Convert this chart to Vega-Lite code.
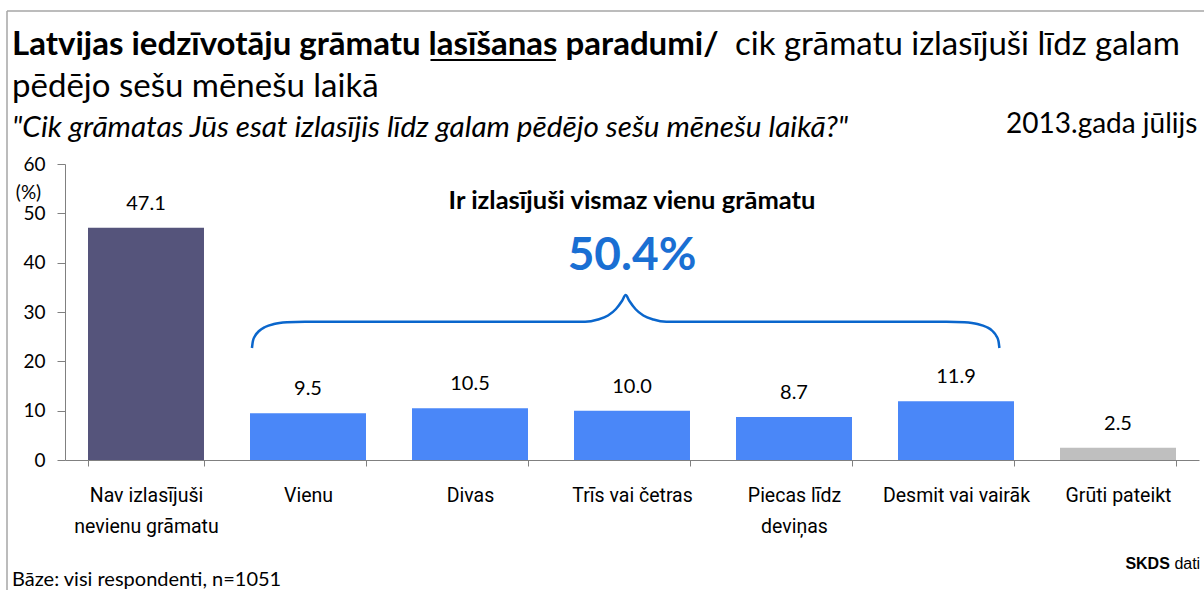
{
  "$schema": "https://vega.github.io/schema/vega-lite/v6.json",
  "width": 1134,
  "height": 296,
  "autosize": {"type": "none"},
  "padding": {"left": 65, "top": 164, "right": 5, "bottom": 130},
  "background": "white",
  "config": {"view": {"stroke": null}, "text": {"font": "Lato"}},
  "datasets": {
    "bars": [
      {"cat": "Nav izlasījuši\nnevienu grāmatu", "value": 47.1, "group": "none"},
      {"cat": "Vienu", "value": 9.5, "group": "some"},
      {"cat": "Divas", "value": 10.5, "group": "some"},
      {"cat": "Trīs vai četras", "value": 10.0, "group": "some"},
      {"cat": "Piecas līdz\ndeviņas", "value": 8.7, "group": "some"},
      {"cat": "Desmit vai vairāk", "value": 11.9, "group": "some"},
      {"cat": "Grūti pateikt", "value": 2.5, "group": "hard"}
    ],
    "brace": [
      {"bx": 1.154, "by": 22.70}, {"bx": 1.160, "by": 24.12}, {"bx": 1.173, "by": 25.14},
      {"bx": 1.198, "by": 26.15}, {"bx": 1.235, "by": 26.96}, {"bx": 1.290, "by": 27.57},
      {"bx": 1.370, "by": 27.91}, {"bx": 1.481, "by": 28.03}, {"bx": 3.210, "by": 28.03},
      {"bx": 3.290, "by": 28.48}, {"bx": 3.352, "by": 29.29}, {"bx": 3.401, "by": 30.61},
      {"bx": 3.438, "by": 32.23}, {"bx": 3.461, "by": 33.45}, {"bx": 3.484, "by": 32.23},
      {"bx": 3.521, "by": 30.61}, {"bx": 3.570, "by": 29.29}, {"bx": 3.632, "by": 28.48},
      {"bx": 3.712, "by": 28.03}, {"bx": 5.441, "by": 28.03}, {"bx": 5.552, "by": 27.91},
      {"bx": 5.632, "by": 27.57}, {"bx": 5.688, "by": 26.96}, {"bx": 5.725, "by": 26.15},
      {"bx": 5.749, "by": 25.14}, {"bx": 5.762, "by": 24.12}, {"bx": 5.768, "by": 22.70}
    ]
  },
  "layer": [
    {
      "data": {"name": "bars"},
      "encoding": {
        "x": {
          "field": "cat", "type": "nominal", "sort": null,
          "scale": {"paddingInner": 0.284, "paddingOuter": 0.142},
          "axis": {
            "title": null, "labelAngle": 0, "tickBand": "extent", "tickSize": 6,
            "tickColor": "#808080", "domainColor": "#808080",
            "labelFont": "Roboto", "labelFontSize": 19.5, "labelColor": "#000000",
            "labelPadding": 20, "labelLineHeight": 31,
            "labelExpr": "isValid(datum.value) ? split(datum.value, '\\n') : ''"
          }
        },
        "y": {
          "field": "value", "type": "quantitative",
          "scale": {"domain": [0, 60], "nice": false},
          "axis": {
            "values": [0, 10, 20, 30, 40, 50, 60], "grid": false, "tickSize": 8,
            "tickColor": "#808080", "domainColor": "#808080",
            "labelFont": "Lato", "labelFontSize": 19, "labelColor": "#000000", "labelPadding": 12,
            "title": "(%)", "titleAngle": 0, "titleX": -37, "titleY": 28,
            "titleAlign": "center", "titleBaseline": "middle",
            "titleFont": "Lato", "titleFontSize": 19, "titleFontWeight": "normal", "titleColor": "#000000"
          }
        }
      },
      "layer": [
        {
          "mark": {"type": "bar"},
          "encoding": {
            "color": {
              "field": "group", "type": "nominal",
              "scale": {"domain": ["none", "some", "hard"], "range": ["#55547B", "#4A87F8", "#BFBFBF"]},
              "legend": null
            }
          }
        },
        {
          "mark": {"type": "text", "font": "Lato", "fontSize": 20, "baseline": "alphabetic", "dy": -18, "color": "#000000"},
          "encoding": {"text": {"field": "value", "type": "quantitative", "format": ".1f"}}
        }
      ]
    },
    {
      "encoding": {
        "x": {"type": "quantitative", "scale": {"domain": [0, 7], "nice": false, "zero": false}, "axis": null},
        "y": {"type": "quantitative", "scale": {"domain": [0, 60], "nice": false, "zero": false}, "axis": null}
      },
      "layer": [
        {
          "data": {"values": [{"t": "frame"}]},
          "mark": {"type": "rule", "color": "#A6A6A6", "strokeWidth": 1.5},
          "encoding": {"x": {"datum": -0.358}, "x2": {"datum": 7.05}, "y": {"datum": 91.0}}
        },
        {
          "data": {"values": [{"t": "frame"}]},
          "mark": {"type": "rule", "color": "#A6A6A6", "strokeWidth": 1.5},
          "encoding": {"x": {"datum": -0.358}, "y": {"datum": 91.0}, "y2": {"datum": -28}}
        },
        {
          "data": {"name": "brace"},
          "mark": {"type": "line", "interpolate": "monotone", "color": "#0A66CC", "strokeWidth": 2.5},
          "encoding": {"x": {"field": "bx"}, "y": {"field": "by"}}
        },
        {
          "data": {"values": [{"t": "Latvijas iedzīvotāju grāmatu lasīšanas paradumi/"}]},
          "mark": {"type": "text", "fontSize": 33, "fontWeight": "bold", "align": "left", "baseline": "alphabetic", "color": "#000000"},
          "encoding": {"x": {"datum": -0.327}, "y": {"datum": 82.1}, "text": {"field": "t"}}
        },
        {
          "data": {"values": [{"t": "underline"}]},
          "mark": {"type": "rule", "color": "#000000", "strokeWidth": 2},
          "encoding": {"x": {"datum": 2.256}, "x2": {"datum": 3.03}, "y": {"datum": 81.1}}
        },
        {
          "data": {"values": [{"t": "cik grāmatu izlasījuši līdz galam"}]},
          "mark": {"type": "text", "fontSize": 33, "align": "left", "baseline": "alphabetic", "color": "#000000"},
          "encoding": {"x": {"datum": 4.136}, "y": {"datum": 82.1}, "text": {"field": "t"}}
        },
        {
          "data": {"values": [{"t": "pēdējo sešu mēnešu laikā"}]},
          "mark": {"type": "text", "fontSize": 33, "align": "left", "baseline": "alphabetic", "color": "#000000"},
          "encoding": {"x": {"datum": -0.327}, "y": {"datum": 73.6}, "text": {"field": "t"}}
        },
        {
          "data": {"values": [{"t": "\"Cik grāmatas Jūs esat izlasījis līdz galam pēdējo sešu mēnešu laikā?\""}]},
          "mark": {"type": "text", "fontSize": 29.7, "fontStyle": "italic", "align": "left", "baseline": "alphabetic", "color": "#000000"},
          "encoding": {"x": {"datum": -0.327}, "y": {"datum": 65.5}, "text": {"field": "t"}}
        },
        {
          "data": {"values": [{"t": "2013.gada jūlijs"}]},
          "mark": {"type": "text", "fontSize": 28, "align": "right", "baseline": "alphabetic", "color": "#000000"},
          "encoding": {"x": {"datum": 6.99}, "y": {"datum": 66.3}, "text": {"field": "t"}}
        },
        {
          "data": {"values": [{"t": "Ir izlasījuši vismaz vienu grāmatu"}]},
          "mark": {"type": "text", "fontSize": 25.5, "fontWeight": "bold", "align": "center", "baseline": "alphabetic", "color": "#000000"},
          "encoding": {"x": {"datum": 3.5}, "y": {"datum": 50.9}, "text": {"field": "t"}}
        },
        {
          "data": {"values": [{"t": "50.4%"}]},
          "mark": {"type": "text", "fontSize": 46, "fontWeight": "bold", "align": "center", "baseline": "alphabetic", "color": "#1A6FD3"},
          "encoding": {"x": {"datum": 3.5}, "y": {"datum": 38.5}, "text": {"field": "t"}}
        },
        {
          "data": {"values": [{"t": "Bāze: visi respondenti, n=1051"}]},
          "mark": {"type": "text", "fontSize": 20, "align": "left", "baseline": "alphabetic", "color": "#000000"},
          "encoding": {"x": {"datum": -0.327}, "y": {"datum": -25.5}, "text": {"field": "t"}}
        },
        {
          "data": {"values": [{"t": "SKDS"}]},
          "mark": {"type": "text", "font": "Liberation Sans", "fontSize": 16, "fontWeight": "bold", "align": "right", "baseline": "alphabetic", "color": "#000000"},
          "encoding": {"x": {"datum": 6.82}, "y": {"datum": -22.1}, "text": {"field": "t"}}
        },
        {
          "data": {"values": [{"t": "dati"}]},
          "mark": {"type": "text", "font": "Liberation Sans", "fontSize": 16, "align": "left", "baseline": "alphabetic", "color": "#000000"},
          "encoding": {"x": {"datum": 6.848}, "y": {"datum": -22.1}, "text": {"field": "t"}}
        }
      ]
    }
  ],
  "resolve": {"scale": {"x": "independent", "y": "independent"}}
}
